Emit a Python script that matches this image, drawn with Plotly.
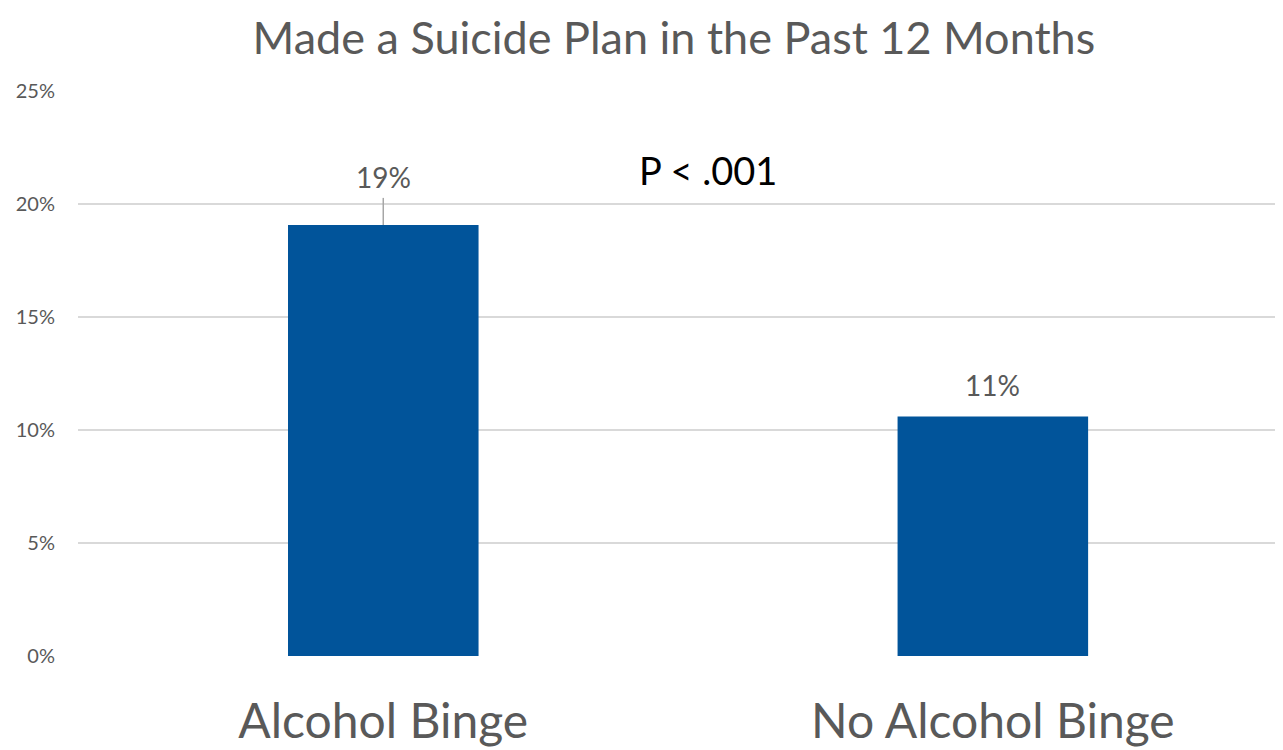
import plotly.graph_objects as go

categories = ["Alcohol Binge", "No Alcohol Binge"]
values = [19.07, 10.6]
value_labels = ["19%", "11%"]
y_ticks = [0, 5, 10, 15, 20, 25]
y_tick_labels = ["0%", "5%", "10%", "15%", "20%", "25%"]

FONT = "Lato"
GREY = "#595959"
BAR = "#01549A"

# page is offset by ~8px (body margin); compensate
L, T = 67, 83
PW, PH = 1208, 565

fig = go.Figure()
fig.add_trace(go.Bar(
    x=categories, y=values, width=0.3126,
    marker=dict(color=BAR, line=dict(width=0)),
    hoverinfo="skip",
))

fig.add_annotation(x=categories[0], y=values[0], xref="x", yref="y",
                   text=value_labels[0], showarrow=False, yshift=48,
                   font=dict(family=FONT, size=28, color=GREY))
fig.add_shape(type="line", xref="x", yref="y", x0=categories[0], x1=categories[0],
              y0=values[0], y1=20.27, line=dict(color="#A6A6A6", width=1.5))
fig.add_annotation(x=categories[1], y=values[1], xref="x", yref="y",
                   text=value_labels[1], showarrow=False, yshift=31,
                   font=dict(family=FONT, size=28, color=GREY))

fig.add_annotation(x=(707 - 75) / PW, y=(656 - 170) / PH, xref="paper", yref="paper",
                   text="P < .001", showarrow=False, xanchor="center", yanchor="middle",
                   font=dict(family=FONT, size=38, color="black"))

fig.update_layout(
    width=1283, height=750,
    margin=dict(l=L, r=1283 - L - PW, t=T, b=750 - T - PH),
    plot_bgcolor="white", paper_bgcolor="white",
    showlegend=False,
    title=dict(text="Made a Suicide Plan in the Past 12 Months", x=0.519, xanchor="center",
               y=0.96, yanchor="middle",
               font=dict(family=FONT, size=45, color=GREY)),
    xaxis=dict(range=[-0.5008, 1.476], showgrid=False, showline=False, ticks="",
               tickfont=dict(family=FONT, size=48, color=GREY), ticklabelstandoff=33),
    yaxis=dict(range=[0, 25], tickvals=y_ticks, ticktext=y_tick_labels,
               showgrid=True, gridcolor="#D9D9D9", gridwidth=1.5, zeroline=False,
               showline=False, ticks="", ticklabelstandoff=22,
               tickfont=dict(family=FONT, size=20, color=GREY)),
)

fig.write_html("out.html")
